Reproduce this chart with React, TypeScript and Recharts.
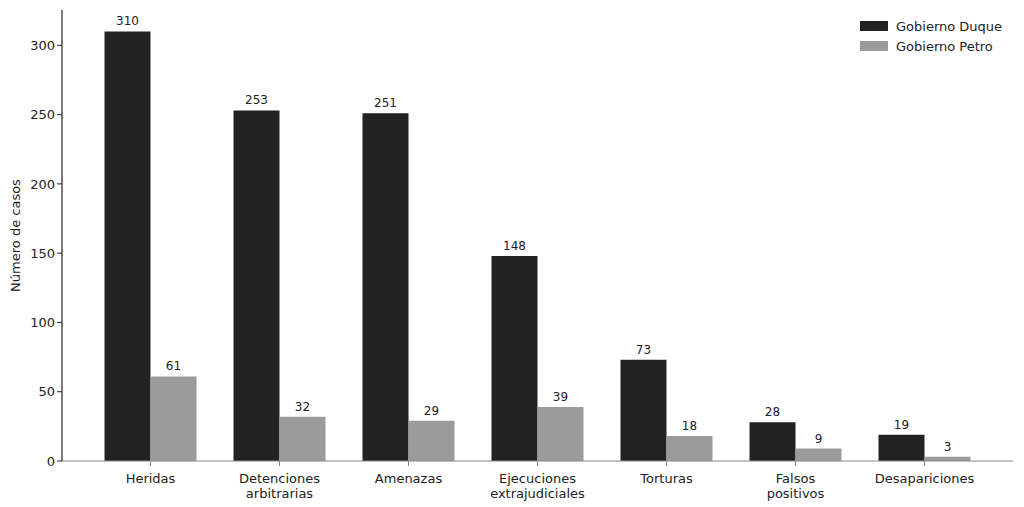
import React from 'react';
import { BarChart, Bar, XAxis, YAxis, LabelList } from 'recharts';

// Categorias de violaciones (saltos de linea en las etiquetas)
const categories = [
  'Heridas',
  'Detenciones\narbitrarias',
  'Amenazas',
  'Ejecuciones\nextrajudiciales',
  'Torturas',
  'Falsos\npositivos',
  'Desapariciones',
];
const duque = [310, 253, 251, 148, 73, 28, 19];
const petro = [61, 32, 29, 39, 18, 9, 3];
const yTicks = [0, 50, 100, 150, 200, 250, 300];

const series = [
  { key: 'duque', label: 'Gobierno Duque', color: '#222222' },
  { key: 'petro', label: 'Gobierno Petro', color: '#9b9b9b' },
];

const data = categories.map((name, i) => ({ name, duque: duque[i], petro: petro[i] }));

const FONT = 'DejaVu Sans, sans-serif';

const CategoryTick = (props: any) => {
  const { x, y, payload } = props;
  const lines = String(payload.value).split('\n');
  return (
    <text x={x} y={y + 15} textAnchor="middle" fontFamily={FONT} fontSize={13} fill="#222">
      {lines.map((l, i) => (
        <tspan key={i} x={x} dy={i === 0 ? 0 : 15}>
          {l}
        </tspan>
      ))}
    </text>
  );
};

export default function App() {
  return (
    <div style={{ position: 'absolute', left: 0, top: 0, width: 1024, height: 507, background: '#fff' }}>
      <BarChart
        width={1024}
        height={507}
        data={data}
        margin={{ top: 10, right: 11, left: 0, bottom: 0 }}
        barCategoryGap={18.5}
        barGap={0}
      >
        <XAxis
          dataKey="name"
          interval={0}
          padding={{ left: 24, right: 24 }}
          tick={<CategoryTick />}
          tickLine={{ stroke: '#888' }}
          axisLine={{ stroke: '#888', strokeWidth: 1.2 }}
          tickSize={5}
          height={46}
        />
        <YAxis
          width={62}
          domain={[0, 325.5]}
          ticks={yTicks}
          allowDataOverflow
          tick={{ fontFamily: FONT, fontSize: 13, fill: '#222' }}
          tickLine={{ stroke: '#222' }}
          axisLine={{ stroke: '#222', strokeWidth: 1.2 }}
          tickSize={5}
          label={{
            value: 'Número de casos',
            angle: -90,
            position: 'insideLeft',
            offset: 15,
            style: { fontFamily: FONT, fontSize: 13, fill: '#222', textAnchor: 'middle' },
          }}
        />
        {series.map((s) => (
          <Bar key={s.key} dataKey={s.key} name={s.label} fill={s.color} isAnimationActive={false}>
            <LabelList
              dataKey={s.key}
              position="top"
              offset={6}
              style={{ fontFamily: FONT, fontSize: 12, fill: '#222' }}
            />
          </Bar>
        ))}
      </BarChart>
      <div style={{ position: 'absolute', left: 860, top: 16, fontFamily: FONT, fontSize: 13, color: '#222' }}>
        {series.map((s) => (
          <div key={s.key} style={{ display: 'flex', alignItems: 'center', height: 20 }}>
            <span style={{ width: 28, height: 10, background: s.color, marginRight: 8 }} />
            <span>{s.label}</span>
          </div>
        ))}
      </div>
    </div>
  );
}
